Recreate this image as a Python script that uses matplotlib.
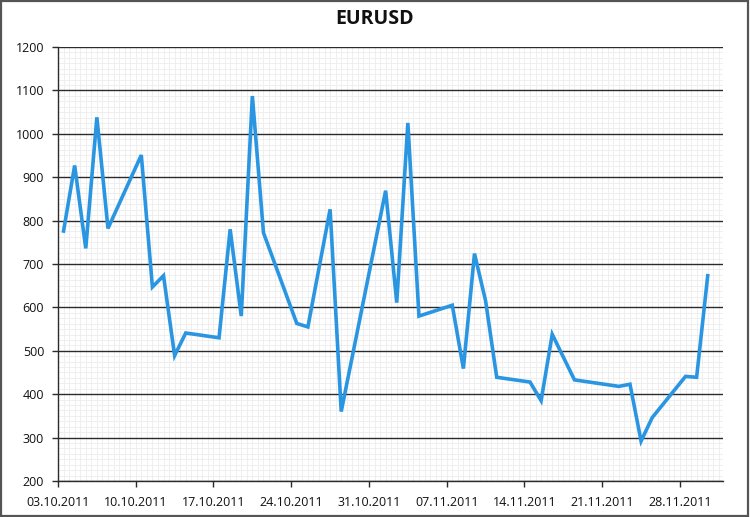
import matplotlib
matplotlib.use("Agg")
import matplotlib.pyplot as plt
import matplotlib.dates as mdates
from matplotlib.ticker import MultipleLocator, AutoMinorLocator
from matplotlib.patches import Rectangle
import pandas as pd

dates = ["2011-10-03", "2011-10-04", "2011-10-05", "2011-10-06", "2011-10-07",
         "2011-10-10", "2011-10-11", "2011-10-12", "2011-10-13", "2011-10-14",
         "2011-10-17", "2011-10-18", "2011-10-19", "2011-10-20", "2011-10-21",
         "2011-10-24", "2011-10-25", "2011-10-27", "2011-10-28",
         "2011-11-01", "2011-11-02", "2011-11-03", "2011-11-04",
         "2011-11-07", "2011-11-08", "2011-11-09", "2011-11-10", "2011-11-11",
         "2011-11-14", "2011-11-15", "2011-11-16", "2011-11-18",
         "2011-11-22", "2011-11-23", "2011-11-24", "2011-11-25",
         "2011-11-28", "2011-11-29", "2011-11-30"]
values = [776, 927, 736, 1038, 782,
          951, 647, 673, 489, 541,
          530, 780, 580, 1087, 772,
          563, 555, 826, 360,
          869, 611, 1025, 580,
          605, 459, 724, 615, 439,
          428, 385, 538, 433,
          418, 423, 292, 346,
          441, 439, 673]
title = "EURUSD"

x = pd.to_datetime(dates) + pd.Timedelta(hours=12)

plt.rcParams['font.family'] = ['Open Sans', 'DejaVu Sans']
fig = plt.figure(figsize=(7.5, 5.17), dpi=100)
ax = fig.add_axes([58/750, 36/517, 665/750, 434/517])

ax.plot(x, values, color='#2a96e2', lw=2.6, solid_joinstyle='miter', zorder=3)

ax.set_ylim(200, 1200)
ax.set_xlim(pd.Timestamp("2011-10-03"), pd.Timestamp("2011-12-01 21:00"))
ax.yaxis.set_major_locator(MultipleLocator(100))
ax.yaxis.set_minor_locator(AutoMinorLocator(8))
ax.xaxis.set_major_locator(mdates.WeekdayLocator(byweekday=mdates.MO))
ax.xaxis.set_major_formatter(mdates.DateFormatter("%d.%m.%Y"))
ax.xaxis.set_minor_locator(mdates.HourLocator(byhour=[0, 12]))

ax.grid(which='minor', color='#ededed', lw=0.6, zorder=0)
ax.grid(which='major', axis='y', color='#2b2b2b', lw=1.0, zorder=1)
ax.grid(which='major', axis='x', color='#ededed', lw=0.6, zorder=0)
ax.set_axisbelow(True)

for s in ['top', 'right']:
    ax.spines[s].set_visible(False)
for s in ['left', 'bottom']:
    ax.spines[s].set_color('#2b2b2b')
    ax.spines[s].set_linewidth(1.0)

ax.tick_params(which='major', direction='out', length=4, width=1, color='#2b2b2b',
               labelsize=9, labelcolor='#111111')
ax.tick_params(axis='y', pad=6)
ax.tick_params(axis='x', pad=7)
ax.tick_params(which='minor', length=0)

fig.text(0.5, 1 - 19/517, title, ha='center', va='center', fontsize=14,
         fontweight='bold', color='#111111')

fig.patches.append(Rectangle((1/750, 1/517), 747/750, 515/517, transform=fig.transFigure,
                             fill=False, edgecolor='#555555', lw=1.6))

fig.savefig("out.png", dpi=100)
